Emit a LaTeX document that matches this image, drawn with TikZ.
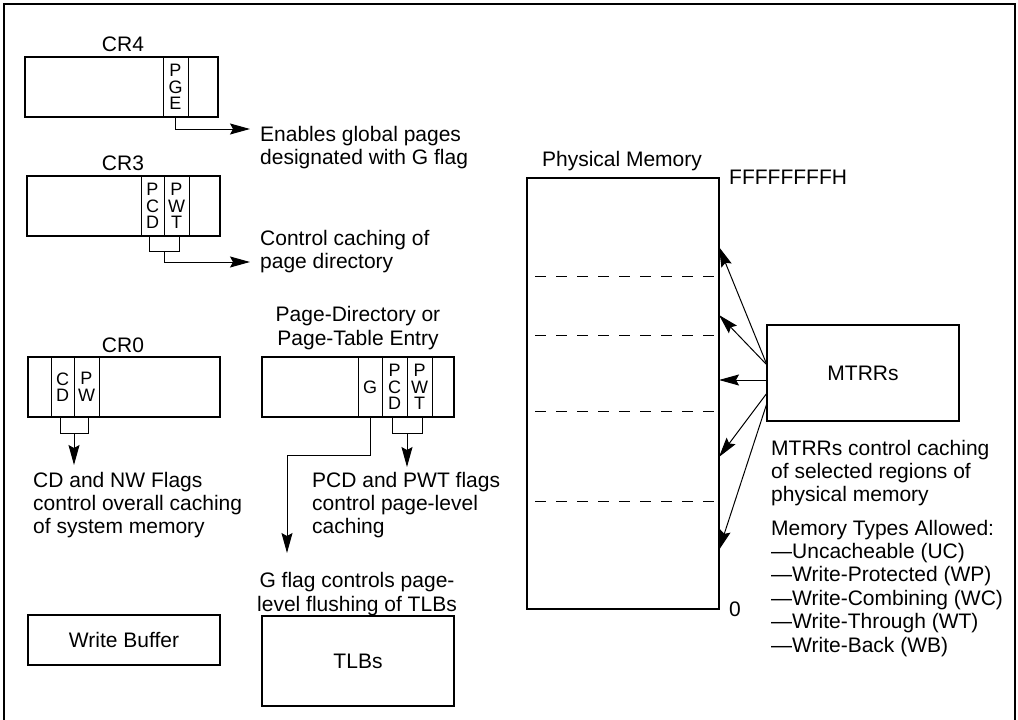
\documentclass[tikz,border=0pt]{standalone}
\usepackage{fontspec}
\setmainfont{Liberation Sans}
\usetikzlibrary{arrows.meta, calc}
\tikzset{
  regbox/.style   = {draw, line width=2pt, minimum height=60pt,
                     inner sep=0pt, outer sep=0pt},
  bitfield/.style = {draw, line width=1pt, minimum height=60pt,
                     inner sep=0pt, outer sep=0pt, align=center,
                     font=\fontsize{18}{16.5}\selectfont},
  unitbox/.style  = {draw, line width=2pt, inner sep=0pt, outer sep=0pt,
                     font=\fontsize{21}{23}\selectfont},
  caption/.style  = {inner sep=0pt, anchor=base, align=center,
                     font=\fontsize{21}{23.5}\selectfont},
  note/.style     = {inner sep=0pt, anchor=base west, align=left,
                     font=\fontsize{21}{23}\selectfont},
  wire/.style     = {-, line width=1pt},
  flow/.style     = {-{Stealth[length=20pt,width=11pt,inset=3pt]}, line width=1pt},
  region/.style   = {-, line width=1pt, dash pattern=on 11pt off 10pt, dash phase=-8pt},
}

\begin{document}
\begin{tikzpicture}[x=1pt, y=-1pt]
    \useasboundingbox (0,0) rectangle (1018,720);
    % --- frame --------------------------------------------------------
    \draw[line width=2pt] (4,720) -- (4,4) -- (1015,4) -- (1015,720);
    % --- control registers --------------------------------------------
    \node[caption] (cr4lbl) at (123,51)  {CR4};
    \node[bitfield, minimum width=25pt] (cr4pge) at (175.5,87) {P\\G\\E};
    \node[regbox, minimum width=193pt] (cr4) at (121.5,87) {};
    \node[caption] (cr3lbl) at (123,170) {CR3};
    \node[bitfield, minimum width=23pt] (cr3pcd) at (152.5,206) {P\\C\\D};
    \node[bitfield, minimum width=25pt] (cr3pwt) at (176.5,206) {P\\W\\T};
    \node[regbox, minimum width=193pt] (cr3) at (123.5,206) {};
    \node[caption] (cr0lbl) at (123,352) {CR0};
    \node[bitfield, minimum width=23pt] (cr0cd) at (62.5,387) {C\\D};
    \node[bitfield, minimum width=25pt] (cr0pw) at (86.5,387) {P\\W};
    \node[regbox, minimum width=192pt] (cr0) at (124,387) {};
    % --- page-directory / page-table entry ----------------------------
    \node[caption] (pdelbl) at (358,345) {Page-Directory or\\Page-Table Entry};
    \node[bitfield, minimum width=24pt] (pdeg)   at (370,387)   {G};
    \node[bitfield, minimum width=25pt] (pdepcd) at (394.5,387) {P\\C\\D};
    \node[bitfield, minimum width=25pt] (pdepwt) at (419.5,387) {P\\W\\T};
    \node[regbox, minimum width=192pt] (pde) at (358,387) {};
    % --- buffers ------------------------------------------------------
    \node[unitbox, minimum width=192pt, minimum height=50pt] (wbuf) at (124,640) {Write Buffer};
    \node[unitbox, minimum width=192pt, minimum height=90pt] (tlb)  at (358,661) {TLBs};
    % --- physical memory and MTRRs ------------------------------------
    \node[caption] (memlbl) at (622,166) {Physical Memory};
    \node[unitbox, minimum width=192pt, minimum height=431pt] (mem) at (623,393.5) {};
    \node[note] (memtop) at (729,184) {FFFFFFFFH};
    \node[note] (membot) at (729,616) {0};
    \foreach \d in {98,157,233,323}
      \draw[region] ([yshift=-\d pt]mem.north west) -- ([yshift=-\d pt]mem.north east);
    \node[unitbox, minimum width=192pt, minimum height=96pt] (mtrr) at (863,373) {MTRRs};
    % --- notes (placed by the baseline of their last line) ------------
    \node[note] (enables) at (260,164) {Enables global pages\\designated with G flag};
    \node[note] (control) at (260,268) {Control caching of\\page directory};
    \node[note] (cdnw)    at (33,533)  {CD and NW Flags\\control overall caching\\of system memory};
    \node[note] (pcdpwt)  at (312,533) {PCD and PWT flags\\control page-level\\caching};
    \node[caption] (gflag) at (357,611) {G flag controls page-\\level flushing of TLBs};
    \node[note] (mtrrnote) at (771,501) {MTRRs control caching\\of selected regions of\\physical memory};
    \node[note, font=\fontsize{21}{23.4}\selectfont] (memtypes) at (771,652)
      {Memory Types Allowed:\\—Uncacheable (UC)\\—Write-Protected (WP)\\—Write-Combining (WC)\\—Write-Through (WT)\\—Write-Back (WB)};
    % --- arrow ends ---------------------------------------------------
    \coordinate (cr4tip) at (250,129);
    \coordinate (cr3tip) at (250,262);
    \coordinate (cr0tip) at (74,465);
    \coordinate (pdetip) at (407,467);
    \coordinate (gtip)   at (287,553);
    \coordinate (cr3fork) at ($(cr3pcd.south east)+(0,15)$);
    \coordinate (cr0fork) at ($(cr0cd.south east)+(0,16)$);
    \coordinate (pdefork) at ($(pdepcd.south east)+(0,16)$);
    % --- connectors ---------------------------------------------------
    \draw[flow] (cr4pge.south) |- (cr4tip);
    \draw[wire] ([xshift=-3pt]cr3pcd.south) -- ++(0,15) -| ([xshift=3pt]cr3pwt.south);
    \draw[flow] (cr3fork) |- (cr3tip);
    \draw[wire] ([xshift=-2.5pt]cr0cd.south) -- ++(0,16) -| ([xshift=1.5pt]cr0pw.south);
    \draw[flow] (cr0fork) -- (cr0tip);
    \draw[wire] ([xshift=-2.5pt]pdepcd.south) -- ++(0,16) -| ([xshift=2.5pt]pdepwt.south);
    \draw[flow] (pdefork) -- (pdetip);
    \draw[flow] (pdeg.south) -- ++(0,38) -| (gtip);
    \foreach \a/\b in {8/69, 8/137, -7/202, -20/279, -30/372}
      \draw[flow] ([yshift=\a pt]mtrr.west) -- ([yshift=-\b pt]mem.north east);
  \end{tikzpicture}
\end{document}
